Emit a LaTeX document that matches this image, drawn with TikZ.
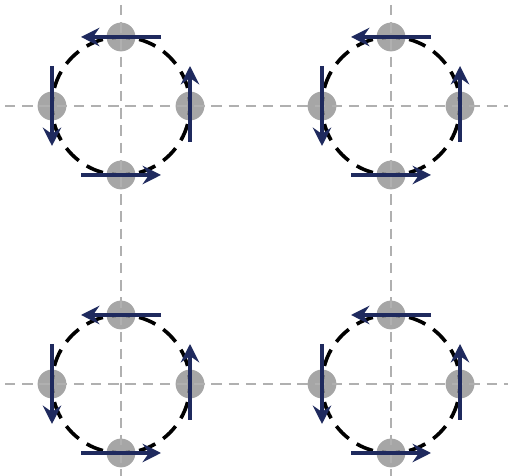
\documentclass[tikz,border=0pt]{standalone}
\usepackage{xcolor}
\usepackage{tikz}
\usetikzlibrary{arrows.meta}

\definecolor{navy}{HTML}{1F2A5E}
\definecolor{sitegray}{HTML}{A6A6A6}
\definecolor{gridgray}{HTML}{B0B0B0}

\begin{document}
\begin{tikzpicture}[
  grid/.style={gridgray, line width=0.06cm, dash pattern=on 0.26cm off 0.17cm},
  orbit/.style={black, line width=0.09cm, dash pattern=on 0.44cm off 0.2374cm, dash phase=0.22cm},
  site/.style={circle, fill=sitegray, minimum size=0.72cm, inner sep=0pt},
  arr/.style={-{Stealth[length=0.46cm, width=0.46cm, inset=0.16cm]}, navy, line width=0.085cm}
]
  \useasboundingbox (0,0) rectangle (12.7,11.9);
  % sites on each orbit
  \foreach \cx/\cy/\n in {3.025/9.25/a, 9.775/9.25/b, 3.025/2.3/c, 9.775/2.3/d} {
    \coordinate (\n) at (\cx,\cy);
    \node[site] (\n-t) at (\cx,\cy+1.725) {};
    \node[site] (\n-b) at (\cx,\cy-1.725) {};
    \node[site] (\n-l) at (\cx-1.725,\cy) {};
    \node[site] (\n-r) at (\cx+1.725,\cy) {};
  }
  % dashed guide lines
  \draw[grid] (0.125,9.25) -- (12.7,9.25);
  \draw[grid] (0.125,2.3) -- (12.7,2.3);
  \draw[grid] (3.025,11.775) -- (3.025,0);
  \draw[grid] (9.775,11.775) -- (9.775,0);
  % orbits and velocities
  \foreach \n in {a,b,c,d} {
    \draw[orbit] (\n) circle (1.725);
    \draw[arr] ([xshift=1cm]\n-t.center) -- ([xshift=-1cm]\n-t.center);
    \draw[arr] ([yshift=1cm]\n-l.center) -- ([yshift=-1cm]\n-l.center);
    \draw[arr] ([xshift=-1cm]\n-b.center) -- ([xshift=1cm]\n-b.center);
    \draw[arr] ([yshift=-0.9cm]\n-r.center) -- ([yshift=1.0cm]\n-r.center);
  }
\end{tikzpicture}
\end{document}
